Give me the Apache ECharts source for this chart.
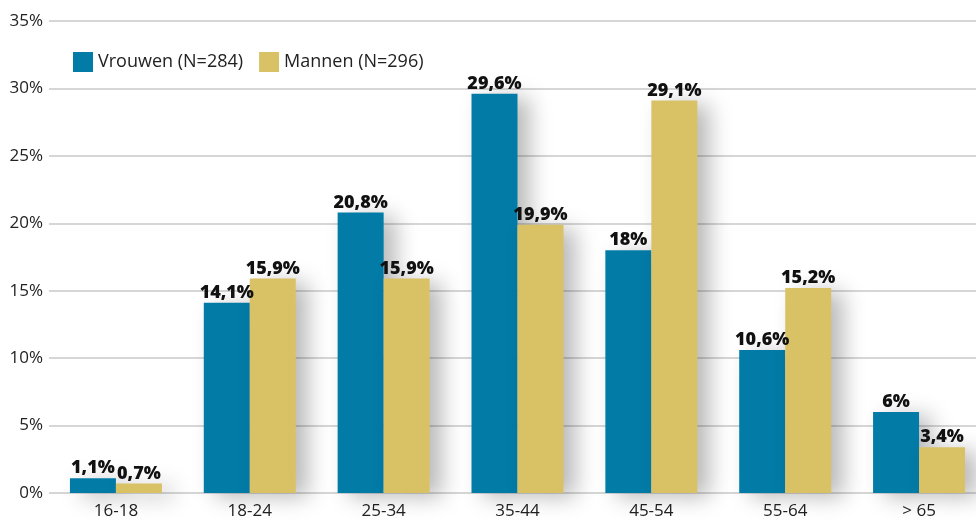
<!DOCTYPE html>
<html lang="en">
<head>
	<meta charset="UTF-8">
	<title>Leeftijd</title>
	<script src="https://cdn.jsdelivr.net/npm/echarts@6/dist/echarts.min.js"></script>
	<style>
		html, body { margin: 0; padding: 0; background: #fff; }
	</style>
</head>
<body>
	<div id="main" style="width: 976px;height:525px;"></div>
	<script type="text/javascript">
		var categories = ['16-18', '18-24', '25-34', '35-44', '45-54', '55-64', '> 65'];
		var vrouwen = [1.1, 14.1, 20.8, 29.6, 18, 10.6, 6];
		var mannen = [0.7, 15.9, 15.9, 19.9, 29.1, 15.2, 3.4];
		var seriesNames = ['Vrouwen (N=284)', 'Mannen (N=296)'];

		var myChart = echarts.init(document.getElementById('main'));
		var font = '"Open Sans", Lato, sans-serif';

		function pct(p) {
			return String(p.value).replace('.', ',') + '%';
		}

		function bar(name, data, color) {
			return {
				name: name,
				type: 'bar',
				data: data,
				barWidth: 46,
				barGap: '0%',
				itemStyle: {
					color: color,
					shadowColor: 'rgba(0,0,0,0.28)',
					shadowBlur: 22,
					shadowOffsetX: 12,
					shadowOffsetY: 4
				},
				label: {
					show: true,
					position: 'top',
					distance: 1,
					formatter: pct,
					color: '#111',
					fontWeight: 800,
					fontSize: 18,
					fontFamily: font
				}
			};
		}

		var option = {
			animation: false,
			grid: { left: 49, top: 21, width: 937, height: 472, containLabel: false, outerBoundsMode: 'none' },
			legend: {
				left: 68,
				top: 47,
				itemWidth: 20,
				itemHeight: 20,
				itemGap: 16,
				icon: 'rect',
				textStyle: { fontSize: 18, color: '#222', fontFamily: font },
				data: seriesNames
			},
			xAxis: {
				type: 'category',
				data: categories,
				axisLine: { show: false },
				axisTick: { show: false },
				axisLabel: { fontSize: 17, color: '#222', fontFamily: font, margin: 10 }
			},
			yAxis: {
				type: 'value',
				min: 0,
				max: 35,
				interval: 5,
				axisLine: { show: false },
				axisTick: { show: false },
				axisLabel: { formatter: '{value}%', fontSize: 17, color: '#222', fontFamily: font, margin: 6 },
				splitLine: { lineStyle: { color: '#c8c8c8', width: 1.5 } }
			},
			series: [
				bar(seriesNames[0], vrouwen, '#037BA7'),
				bar(seriesNames[1], mannen, '#D9C266')
			]
		};

		myChart.setOption(option);
	</script>
</body>
</html>
